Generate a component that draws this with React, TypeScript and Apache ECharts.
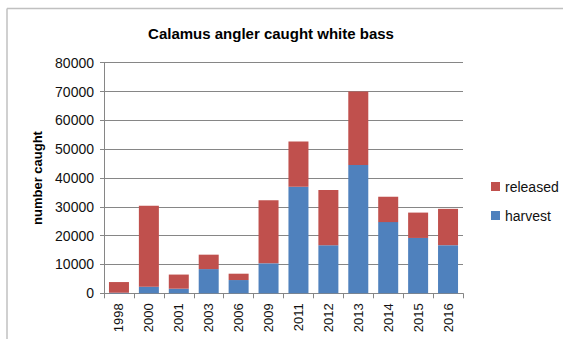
import React, { useEffect, useRef } from "react";
import * as echarts from "echarts";

// Calamus angler catch of white bass by survey year
const years = ["1998", "2000", "2001", "2003", "2006", "2009", "2011", "2012", "2013", "2014", "2015", "2016"];
const harvest = [200, 2300, 1600, 8400, 4600, 10400, 37000, 16700, 44500, 24700, 19200, 16700];
const released = [3700, 28100, 4900, 5000, 2200, 21900, 15700, 19100, 25500, 8800, 8800, 12600];
const yTicks = { min: 0, max: 80000, interval: 10000 };

const FONT = "'Liberation Sans', Arial, sans-serif";
const GRID_COLOR = "#868686";

export default function App() {
  const ref = useRef<HTMLDivElement>(null);

  useEffect(() => {
    if (!ref.current) return;
    const chart = echarts.init(ref.current, null, { renderer: "svg" });
    chart.setOption({
      animation: false,
      backgroundColor: "#ffffff",
      textStyle: { fontFamily: FONT },
      title: {
        text: "Calamus angler caught white bass",
        left: 266,
        textAlign: "center",
        top: 21,
        textStyle: { fontFamily: FONT, fontSize: 15, fontWeight: "bold", color: "#000" },
      },
      graphic: [
        { type: "line", shape: { x1: 7, y1: 8.5, x2: 563, y2: 8.5 }, style: { stroke: "#c0c0c0", lineWidth: 1.5 } },
        { type: "line", shape: { x1: 7, y1: 8.5, x2: 7, y2: 339 }, style: { stroke: "#c0c0c0", lineWidth: 1.5 } },
      ],
      legend: {
        orient: "vertical",
        left: 486,
        top: 174,
        itemWidth: 9,
        itemHeight: 9,
        itemGap: 14,
        icon: "rect",
        data: ["released", "harvest"],
        textStyle: { fontFamily: FONT, fontSize: 14, color: "#111", lineHeight: 15, padding: [0, 0, 0, 0] },
      },
      grid: { left: 104, right: 100, top: 62.7, bottom: 45.7, containLabel: false },
      xAxis: {
        type: "category",
        data: years,
        boundaryGap: true,
        axisLine: { lineStyle: { color: GRID_COLOR, width: 1 } },
        axisTick: { show: true, length: 5, alignWithLabel: false, lineStyle: { color: GRID_COLOR } },
        axisLabel: {
          rotate: 90,
          interval: 0,
          margin: 10,
          fontFamily: FONT,
          fontSize: 13,
          color: "#111",
        },
      },
      yAxis: {
        type: "value",
        min: yTicks.min,
        max: yTicks.max,
        interval: yTicks.interval,
        name: "number caught",
        nameLocation: "middle",
        nameRotate: 90,
        nameGap: 59,
        nameTextStyle: { fontFamily: FONT, fontSize: 13, fontWeight: "bold", color: "#000" },
        axisLine: { show: true, lineStyle: { color: GRID_COLOR, width: 1 } },
        axisTick: { show: true, length: 4, lineStyle: { color: GRID_COLOR } },
        axisLabel: {
          fontFamily: FONT,
          fontSize: 14,
          color: "#111",
          margin: 10,
          formatter: (v: number) => String(v),
        },
        splitLine: { lineStyle: { color: GRID_COLOR, width: 1 } },
      },
      series: [
        {
          name: "harvest",
          type: "bar",
          stack: "total",
          data: harvest,
          barWidth: 20,
          itemStyle: { color: "#4F81BD" },
        },
        {
          name: "released",
          type: "bar",
          stack: "total",
          data: released,
          barWidth: 20,
          itemStyle: { color: "#C0504D" },
        },
      ],
    });
    return () => chart.dispose();
  }, []);

  return (
    <div
      ref={ref}
      style={{ position: "absolute", left: 0, top: 0, width: 563, height: 339 }}
    />
  );
}
